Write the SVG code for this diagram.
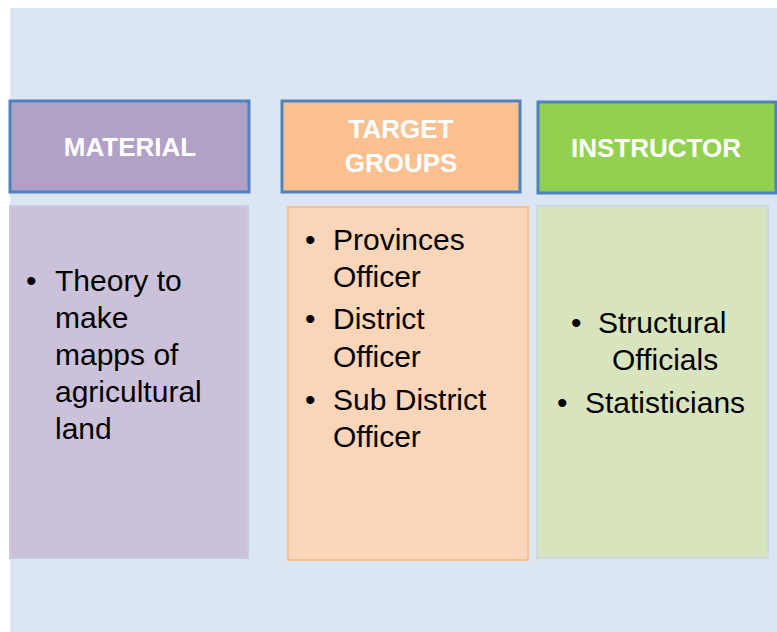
<svg xmlns="http://www.w3.org/2000/svg" width="777" height="632" viewBox="0 0 777 632">
<style>
.hdr{stroke:#4F81BD;stroke-width:3}
.ht{font-family:"Liberation Sans",Arial,sans-serif;font-weight:bold;font-size:26px;fill:#FFFFFF;text-anchor:middle}
.bt{font-family:"Liberation Sans",Arial,sans-serif;font-size:30px;fill:#000000}
</style>
<rect x="0" y="0" width="777" height="632" fill="#FFFFFF"/>
<rect x="10" y="8" width="767" height="624" fill="#DCE6F2"/>
<g id="material-header">
<rect class="hdr" x="10" y="101" width="239" height="91" fill="#B2A1C7"/>
<text class="ht" x="130" y="156">MATERIAL</text>
</g>
<g id="target-header">
<rect class="hdr" x="282" y="101" width="238" height="91" fill="#FAC090"/>
<text class="ht" x="401" y="138">TARGET</text>
<text class="ht" x="401" y="172">GROUPS</text>
</g>
<g id="instructor-header">
<rect class="hdr" x="538" y="102" width="238" height="91" fill="#92D050"/>
<text class="ht" x="656" y="157">INSTRUCTOR</text>
</g>
<g id="material-body">
<rect x="10" y="206" width="238" height="352" fill="#CCC1DA" stroke="#C9CBE2" stroke-width="2"/>
<text class="bt" x="26" y="291">•</text>
<text class="bt" x="55" y="291">Theory to</text>
<text class="bt" x="55" y="328">make</text>
<text class="bt" x="55" y="365">mapps of</text>
<text class="bt" x="55" y="402">agricultural</text>
<text class="bt" x="55" y="439">land</text>
</g>
<g id="target-body">
<rect x="288" y="207" width="240" height="353" fill="#F9D5BA" stroke="#F9BE8E" stroke-width="2"/>
<text class="bt" x="305" y="250">•</text>
<text class="bt" x="333" y="250">Provinces</text>
<text class="bt" x="333" y="287">Officer</text>
<text class="bt" x="305" y="329">•</text>
<text class="bt" x="333" y="329">District</text>
<text class="bt" x="333" y="367">Officer</text>
<text class="bt" x="305" y="410">•</text>
<text class="bt" x="333" y="410">Sub District</text>
<text class="bt" x="333" y="447">Officer</text>
</g>
<g id="instructor-body">
<rect x="537" y="206" width="231" height="352" fill="#D7E4BD" stroke="#CFD9E6" stroke-width="2"/>
<text class="bt" x="571" y="333">•</text>
<text class="bt" x="598" y="333">Structural</text>
<text class="bt" x="612" y="370">Officials</text>
<text class="bt" x="557" y="413">•</text>
<text class="bt" x="585" y="413">Statisticians</text>
</g>
<g id="connectors"></g>
</svg>
